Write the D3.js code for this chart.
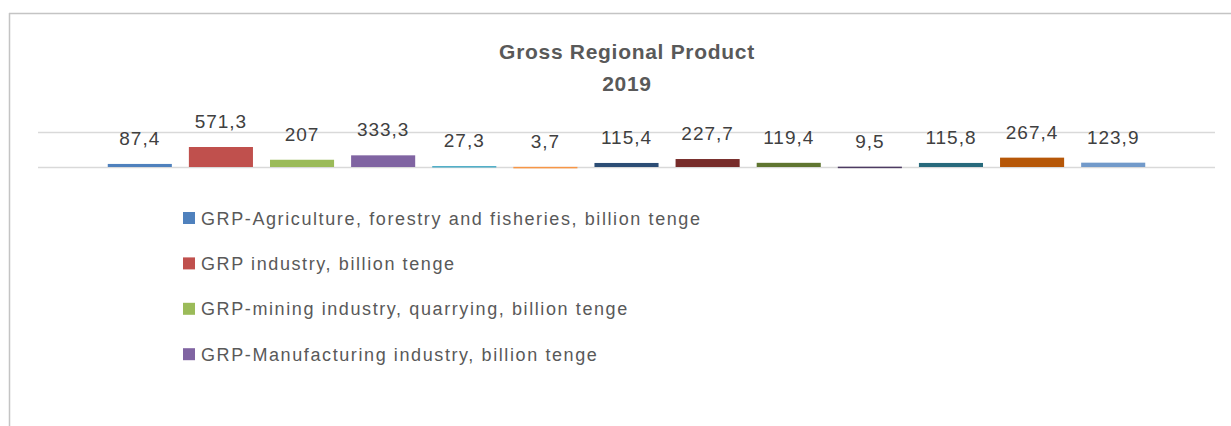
<!DOCTYPE html>
<html><head><meta charset="utf-8">
<script src="https://cdn.jsdelivr.net/npm/d3@7"></script>
<style>html,body{margin:0;padding:0;background:#fff;}svg{display:block;}</style>
</head><body>
<script>
const seriesNames = [
  "GRP-Agriculture, forestry and fisheries, billion tenge",
  "GRP industry, billion tenge",
  "GRP-mining industry, quarrying, billion tenge",
  "GRP-Manufacturing industry, billion tenge",
  "S5","S6","S7","S8","S9","S10","S11","S12","S13"
];
const values = [87.4, 571.3, 207, 333.3, 27.3, 3.7, 115.4, 227.7, 119.4, 9.5, 115.8, 267.4, 123.9];
const labels = ["87,4","571,3","207","333,3","27,3","3,7","115,4","227,7","119,4","9,5","115,8","267,4","123,9"];
const colors = ["#4F81BD","#C0504D","#9BBB59","#8064A2","#4BACC6","#F79646","#2C4D75","#772C2A","#5F7530","#4D3B62","#276A7C","#B65708","#729ACA"];
const legendShown = 4;
const titleLines = ["Gross Regional Product","2019"];
const yTicks = [0, 1000];

const W = 1231, H = 426;
const svg = d3.select("body").append("svg").attr("width", W).attr("height", H);

// frame
svg.append("line").attr("x1",9).attr("x2",W).attr("y1",13.5).attr("y2",13.5).attr("stroke","#c4c4c4").attr("stroke-width",1.5);
svg.append("line").attr("x1",9.5).attr("x2",9.5).attr("y1",13).attr("y2",H).attr("stroke","#c4c4c4").attr("stroke-width",1.5);

const font = "'Liberation Sans', Arial, sans-serif";

// title
svg.append("text").attr("x",627).attr("y",59).attr("text-anchor","middle")
  .attr("font-family",font).attr("font-weight","bold").attr("font-size",21).attr("letter-spacing",0.7)
  .attr("fill","#595959").text(titleLines[0]);
svg.append("text").attr("x",627).attr("y",91).attr("text-anchor","middle")
  .attr("font-family",font).attr("font-weight","bold").attr("font-size",21).attr("letter-spacing",0.7)
  .attr("fill","#595959").text(titleLines[1]);

const y = d3.scaleLinear().domain([0,1000]).range([167,132]);
const x = d3.scaleBand().domain(seriesNames).range([38,1215]).paddingInner(0.21).paddingOuter(0.86);

// gridlines
svg.append("g").selectAll("line").data(yTicks).join("line")
  .attr("x1",38).attr("x2",1215).attr("y1",d=>Math.round(y(d))+0.5).attr("y2",d=>Math.round(y(d))+0.5)
  .attr("stroke","#d9d9d9").attr("stroke-width",1.5);

// bars
svg.append("g").selectAll("rect").data(values).join("rect")
  .attr("x",(d,i)=>x(seriesNames[i])).attr("width",x.bandwidth())
  .attr("y",d=>y(d)).attr("height",d=>Math.max(1.5, y(0)-y(d)))
  .attr("fill",(d,i)=>colors[i]);

// labels
svg.append("g").selectAll("text").data(values).join("text")
  .attr("x",(d,i)=>x(seriesNames[i])+x.bandwidth()/2)
  .attr("y",d=>y(d)-19)
  .attr("text-anchor","middle").attr("font-family",font).attr("font-size",19).attr("letter-spacing",1)
  .attr("fill","#404040")
  .text((d,i)=>labels[i]);

// legend
const lg = svg.append("g");
const rows = seriesNames.slice(0,legendShown);
rows.forEach((name,i)=>{
  const cy = 218 + i*45.4;
  lg.append("rect").attr("x",183).attr("y",cy-6).attr("width",12).attr("height",12).attr("fill",colors[i]);
  lg.append("text").attr("x",201).attr("y",cy+6.5).attr("font-family",font).attr("font-size",18)
    .attr("letter-spacing",1.6).attr("fill","#595959").text(name);
});
</script>
</body></html>
